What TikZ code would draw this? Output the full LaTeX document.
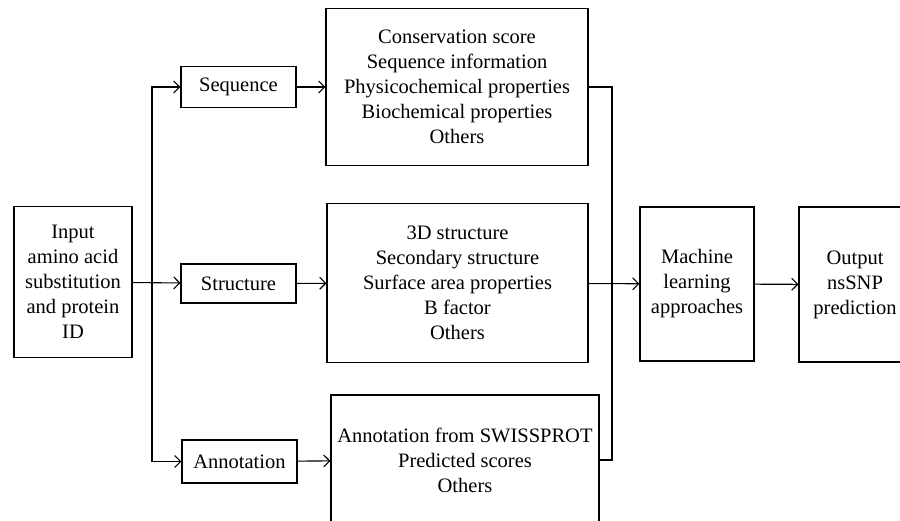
\documentclass[tikz,border=0pt]{standalone}
\usepackage{fontspec}
\setmainfont{Liberation Serif}
\usetikzlibrary{arrows.meta,positioning}

\begin{document}
\begin{tikzpicture}[x=1pt,y=-1pt,
    blk/.style={draw,line width=1.1pt,align=center,inner sep=0pt,
      font=\fontsize{20.5}{25}\selectfont},
    link/.style={line width=1.1pt},
    feed/.style={link,-{Straight Barb[length=6pt,width=12pt,line width=1.1pt]}}]
    \useasboundingbox (0,0) rectangle (900,521);
    \node[blk,minimum width=118,minimum height=151] (input) at (73,282) {Input\\amino acid\\substitution\\and protein\\ID};
    \node[blk,minimum width=115,minimum height=41] (seq) at (238.5,87) {Sequence};
    \node[blk,minimum width=115,minimum height=39] (struc) at (238.5,283.5) {Structure};
    \node[blk,minimum width=115,minimum height=43] (annot) at (239.5,461.5) {Annotation};
    \node[blk,minimum width=262,minimum height=157] (seqinfo) at (457,87) {Conservation score\\Sequence information\\Physicochemical properties\\Biochemical properties\\Others};
    \node[blk,minimum width=261,minimum height=159] (strucinfo) at (457.5,283) {3D structure\\Secondary structure\\Surface area properties\\B factor\\Others};
    \node[blk,minimum width=268,minimum height=130] (annotinfo) at (465,460) {Annotation from SWISSPROT\\Predicted scores\\Others};
    \node[blk,minimum width=114,minimum height=154] (ml) at (697,284) {Machine\\learning\\approaches};
    \node[blk,minimum width=112,minimum height=155] (out) at (855,284.5) {Output\\nsSNP\\prediction};
    \coordinate (split) at (152,283.5);
    \coordinate (bus) at (612,283.5);
    \draw[feed] (input) -- (struc);
    \draw[feed] (split) |- (seq);
    \draw[feed] (split) |- (annot);
    \draw[feed] (seq) -- (seqinfo);
    \draw[feed] (struc) -- (strucinfo);
    \draw[feed] (annot) -- (annotinfo);
    \draw[link] (seqinfo.east) -| (bus) |- (annotinfo.east);
    \draw[feed] (strucinfo) -- (ml);
    \draw[feed] (ml) -- (out);
  \end{tikzpicture}
\end{document}
